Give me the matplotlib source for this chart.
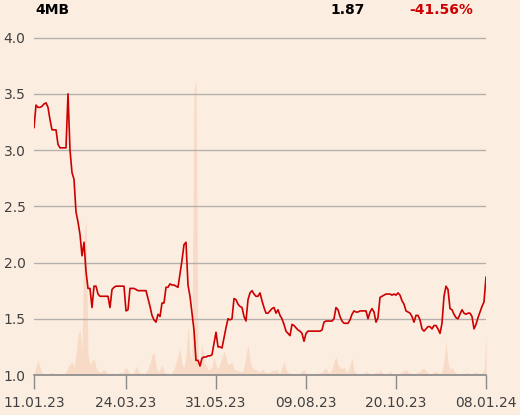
import matplotlib
matplotlib.use("Agg")
import matplotlib.pyplot as plt
import numpy as np

ticker = "4MB"
last_price = "1.87"
change = "-41.56%"

tick_labels = ["11.01.23", "24.03.23", "31.05.23", "09.08.23", "20.10.23", "08.01.24"]
tick_index = [0, 46, 91, 136, 181, 226]

price = [
    3.20, 3.40, 3.38, 3.38, 3.39, 3.41, 3.42, 3.38, 3.27, 3.18,
    3.18, 3.18, 3.05, 3.02, 3.02, 3.02, 3.02, 3.50, 3.00, 2.80,
    2.74, 2.45, 2.36, 2.25, 2.06, 2.18, 1.92, 1.77, 1.77, 1.60,
    1.79, 1.79, 1.72, 1.70, 1.70, 1.70, 1.70, 1.70, 1.60, 1.76,
    1.78, 1.79, 1.79, 1.79, 1.79, 1.79, 1.57, 1.58, 1.77, 1.77,
    1.77, 1.76, 1.75, 1.75, 1.75, 1.75, 1.75, 1.68, 1.61, 1.53,
    1.49, 1.47, 1.54, 1.52, 1.64, 1.64, 1.78, 1.78, 1.81, 1.80,
    1.80, 1.79, 1.78, 1.90, 2.02, 2.16, 2.18, 1.80, 1.70, 1.55,
    1.40, 1.13, 1.13, 1.08, 1.15, 1.16, 1.16, 1.17, 1.17, 1.18,
    1.28, 1.38, 1.25, 1.25, 1.24, 1.33, 1.42, 1.50, 1.49, 1.50,
    1.68, 1.67, 1.63, 1.61, 1.60, 1.52, 1.48, 1.67, 1.73, 1.75,
    1.72, 1.70, 1.70, 1.73, 1.66, 1.60, 1.55, 1.55, 1.57, 1.59,
    1.60, 1.55, 1.58, 1.53, 1.50, 1.45, 1.39, 1.37, 1.35, 1.45,
    1.44, 1.42, 1.40, 1.39, 1.37, 1.30, 1.37, 1.39, 1.39, 1.39,
    1.39, 1.39, 1.39, 1.39, 1.40, 1.47, 1.48, 1.48, 1.48, 1.48,
    1.50, 1.60, 1.58, 1.52, 1.48, 1.46, 1.46, 1.46, 1.49, 1.54,
    1.57, 1.56, 1.56, 1.57, 1.57, 1.57, 1.57, 1.50, 1.56, 1.59,
    1.56, 1.47, 1.51, 1.69, 1.70, 1.71, 1.72, 1.72, 1.72, 1.71,
    1.72, 1.71, 1.73, 1.71, 1.66, 1.63, 1.57, 1.56, 1.55, 1.52,
    1.47, 1.53, 1.53, 1.49, 1.41, 1.39, 1.41, 1.43, 1.43, 1.41,
    1.44, 1.44, 1.41, 1.37, 1.46, 1.70, 1.79, 1.76, 1.59, 1.58,
    1.54, 1.51, 1.50, 1.54, 1.58, 1.55, 1.54, 1.55, 1.55, 1.52,
    1.41, 1.45, 1.51, 1.56, 1.61, 1.65, 1.87,
]

volume = [
    2, 8, 15, 8, 2, 1, 1, 1, 2, 3,
    1, 1, 2, 1, 1, 1, 3, 8, 11, 13,
    8, 20, 40, 45, 25, 140, 155, 20, 10, 14,
    16, 8, 4, 3, 4, 6, 3, 2, 1, 2,
    1, 1, 2, 3, 2, 5, 8, 4, 2, 1,
    3, 9, 4, 2, 2, 1, 3, 6, 12, 20,
    23, 10, 3, 5, 10, 4, 2, 2, 1, 3,
    6, 12, 20, 26, 10, 8, 18, 50, 20, 15,
    285, 295, 18, 12, 31, 12, 10, 5, 6, 8,
    18, 10, 6, 12, 18, 24, 18, 10, 12, 13,
    6, 5, 4, 4, 3, 8, 20, 30, 15, 8,
    6, 5, 4, 3, 6, 4, 3, 2, 3, 5,
    4, 6, 3, 2, 8, 13, 6, 3, 2, 1,
    1, 2, 1, 2, 4, 6, 2, 1, 1, 1,
    1, 1, 2, 2, 3, 5, 7, 3, 2, 6,
    14, 18, 10, 8, 6, 8, 4, 3, 10, 17,
    4, 2, 1, 1, 1, 2, 4, 2, 1, 1,
    2, 3, 2, 5, 3, 1, 1, 2, 4, 2,
    1, 1, 1, 2, 3, 4, 6, 3, 2, 1,
    1, 2, 3, 4, 6, 7, 4, 2, 1, 1,
    3, 4, 2, 2, 4, 15, 33, 12, 5, 8,
    4, 2, 1, 1, 2, 1, 3, 2, 1, 1,
    2, 3, 2, 1, 2, 5, 39,
]

bg = "#FCEDE1"
W, H = 520, 415
fig = plt.figure(figsize=(W / 100, H / 100), dpi=100, facecolor=bg)

x0, x1 = 34, 486
ybot, ytop = 375, 32
ax = fig.add_axes([x0 / W, (H - ybot) / H, (x1 - x0) / W, (ybot - ytop) / H])
ax2 = ax.twinx()
ax2.set_position(ax.get_position())

idx = np.arange(len(price))
ax2.fill_between(np.arange(len(volume)), volume, 0, color="#F8D9C3", lw=0, alpha=0.9)
ax2.set_ylim(0, 343)
ax2.set_xlim(0, len(price) - 1)
ax2.axis("off")

ax.set_zorder(ax2.get_zorder() + 1)
ax.patch.set_visible(False)
ax2.patch.set_facecolor(bg)

ax.plot(idx, price, color="#CC0000", lw=1.2, zorder=3)
ax.set_xlim(0, len(price) - 1)
ax.set_ylim(1.0, 4.05)
ax.set_yticks([1.0, 1.5, 2.0, 2.5, 3.0, 3.5, 4.0])
ax.set_yticklabels([f"{v:.1f}" for v in [1.0, 1.5, 2.0, 2.5, 3.0, 3.5, 4.0]])
ax.grid(axis="y", color="#B5B0AC", lw=1.0)
ax.set_axisbelow(True)
ax.set_xticks(tick_index)
ax.set_xticklabels(tick_labels)

for s in ["top", "right", "left"]:
    ax.spines[s].set_visible(False)
ax.spines["bottom"].set_color("#8A8A8A")
ax.spines["bottom"].set_linewidth(1.2)
ax.tick_params(axis="x", length=10, width=1.0, color="#8A8A8A", labelsize=10,
               labelcolor="#404040", pad=5)
ax.tick_params(axis="y", length=0, labelsize=10, labelcolor="#404040", pad=6)

fig.text(35 / W, 1 - 10 / H, ticker, fontsize=10, fontweight="bold", color="black",
         ha="left", va="center")
fig.text(365 / W, 1 - 10 / H, last_price, fontsize=10, fontweight="bold", color="black",
         ha="right", va="center")
fig.text(473 / W, 1 - 10 / H, change, fontsize=10, fontweight="bold", color="#CC0000",
         ha="right", va="center")

fig.savefig("out.png", dpi=100, facecolor=bg)
